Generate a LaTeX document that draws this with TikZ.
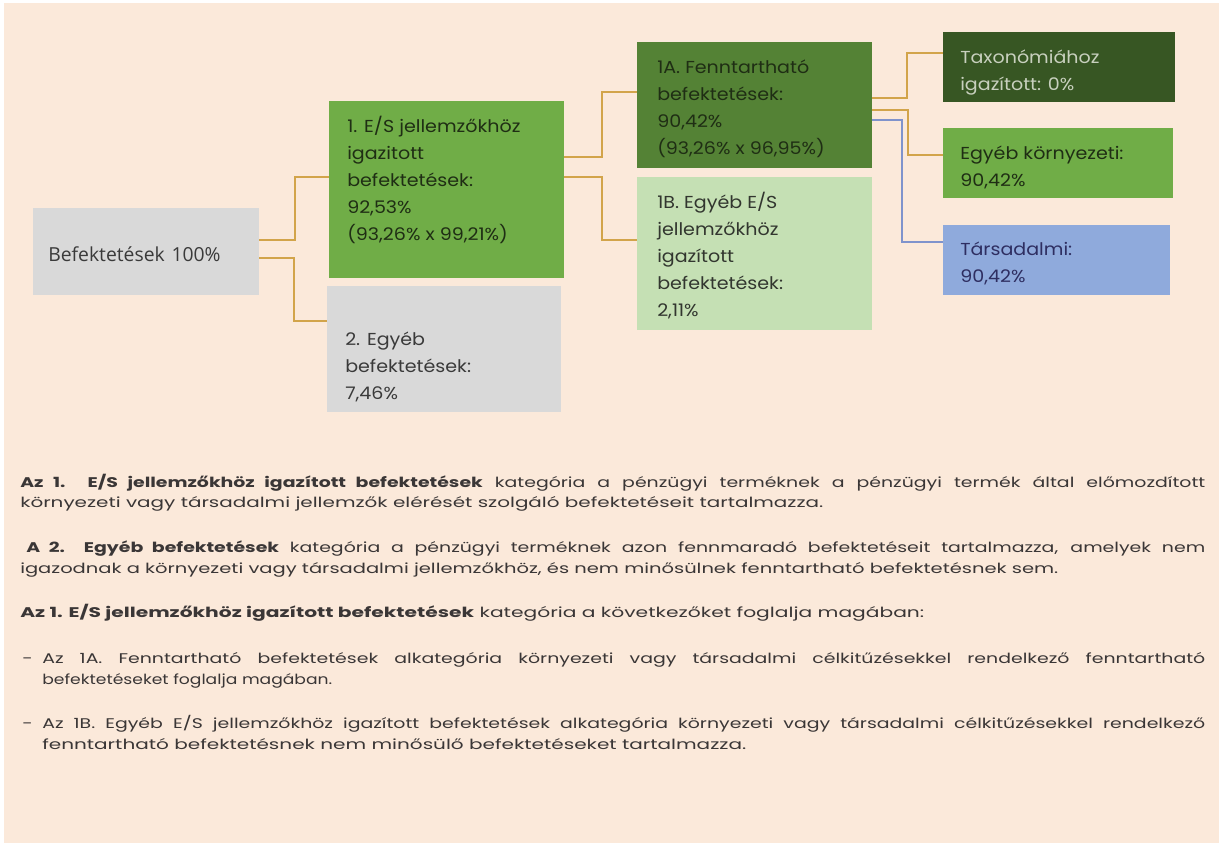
\documentclass[tikz,border=0pt]{standalone}
\usepackage{fontspec}
\usepackage{graphicx}
\setmainfont{Poppins}
\newfontfamily\boxfont[FakeStretch=1.1]{Poppins}
\newfontfamily\lowfont[FakeStretch=1.35]{Poppins}
\newfontfamily\rootfont{Open Sans}
\usetikzlibrary{calc}
\definecolor{peach}{HTML}{FBE9DA}
\definecolor{greyb}{HTML}{D9D9D9}
\definecolor{greenb}{HTML}{70AD47}
\definecolor{greend}{HTML}{548235}
\definecolor{greendd}{HTML}{375623}
\definecolor{greenl}{HTML}{C5E0B4}
\definecolor{blueb}{HTML}{8FAADC}
\definecolor{goldl}{HTML}{D2A44A}
\definecolor{bluel}{HTML}{7F93CC}
\definecolor{darkt}{HTML}{1F2E14}
\definecolor{greyt}{HTML}{3A3A3A}
\definecolor{lightt}{HTML}{C8D0BE}
\definecolor{lowt}{HTML}{3A3636}
\newcommand\mylines[1]{\begin{tabular}[t]{@{}l@{}}#1\end{tabular}}
\newcommand\jline[2]{\makebox[\dimexpr #1pt*3/4\relax][s]{#2}}
\newcommand\rline[2]{\resizebox{\dimexpr #1pt*3/4\relax}{\height}{#2}}
\begin{document}
\begin{tikzpicture}[x=0.75pt,y=-0.75pt,
  boxr/.style={rectangle, inner sep=0pt, outer sep=0pt, anchor=north west},
  btxt/.style={anchor=base west, inner sep=0pt, text=darkt,
    font=\boxfont\fontsize{13}{20.25}\selectfont},
  ltxt/.style={anchor=base west, inner sep=0pt, text=lowt,
    font=\lowfont\fontsize{10.5}{13}\selectfont},
  conn/.style={draw=goldl, line width=1.5pt},
  connb/.style={draw=bluel, line width=1.5pt}]
\useasboundingbox (0,0) rectangle (1219,843);
\fill[white] (0,0) rectangle (1219,843);
\fill[peach] (4,3) rectangle (1219,843);
% boxes
\node[boxr, fill=greyb, minimum width=226*0.75pt, minimum height=87*0.75pt] (root) at (33,208) {};
\node[boxr, fill=greenb, minimum width=235*0.75pt, minimum height=177*0.75pt] (box1) at (329,101) {};
\node[boxr, fill=greyb, minimum width=234*0.75pt, minimum height=126*0.75pt] (box2) at (327,286) {};
\node[boxr, fill=greend, minimum width=235*0.75pt, minimum height=126*0.75pt] (boxA) at (637,42) {};
\node[boxr, fill=greenl, minimum width=235*0.75pt, minimum height=153*0.75pt] (boxB) at (637,177) {};
\node[boxr, fill=greendd, minimum width=232*0.75pt, minimum height=70*0.75pt] (tax) at (943,32) {};
\node[boxr, fill=greenb, minimum width=230*0.75pt, minimum height=70*0.75pt] (env) at (943,128) {};
\node[boxr, fill=blueb, minimum width=227*0.75pt, minimum height=70*0.75pt] (soc) at (943,225) {};
% box texts
\node[anchor=base west, inner sep=0pt, text=greyt, font=\rootfont\fontsize{14.5}{18}\selectfont] (roott) at (48,261) {Befektetések\hspace{0.35em}100\%};
\node[btxt] (box1t) at (347,132) {\mylines{1. E/S jellemzőkhöz\\igazitott\\befektetések:\\92,53\%\\(93,26\% x 99,21\%)}};
\node[btxt, text=greyt] (box2t) at (345,345) {\mylines{2. Egyéb\\befektetések:\\7,46\%}};
\node[btxt] (boxAt) at (657,73) {\mylines{1A. Fenntartható\\befektetések:\\90,42\%\\(93,26\% x 96,95\%)}};
\node[btxt, text=greyt!70!darkt] (boxBt) at (657,208) {\mylines{1B. Egyéb E/S\\jellemzőkhöz\\igazított\\befektetések:\\2,11\%}};
\node[btxt, text=lightt] (taxt) at (960,63) {\mylines{Taxonómiához\\igazított: 0\%}};
\node[btxt] (envt) at (960,159) {\mylines{Egyéb környezeti:\\90,42\%}};
\node[btxt, text=greyt!80!blue] (soct) at (960,255) {\mylines{Társadalmi:\\90,42\%}};
% connectors
\draw[conn] ($(root.north east)+(0,32)$) -- ++(36,0) |- ($(box1.north west)+(0,76)$);
\draw[conn] ($(root.north east)+(0,50)$) -- ++(35,0) |- ($(box2.north west)+(0,35)$);
\draw[conn] ($(box1.north east)+(0,56)$) -- ++(38,0) |- ($(boxA.north west)+(0,50)$);
\draw[conn] ($(box1.north east)+(0,76)$) -- ++(38,0) |- ($(boxB.north west)+(0,63)$);
\draw[conn] ($(boxA.north east)+(0,56)$) -- ++(35,0) |- ($(tax.north west)+(0,21)$);
\draw[conn] ($(boxA.north east)+(0,68)$) -- ++(36,0) |- ($(env.north west)+(0,27)$);
\draw[connb] ($(boxA.north east)+(0,78)$) -- ++(30,0) |- ($(soc.north west)+(0,17)$);
% lower text
\node[ltxt] (p1a) at (20,487) {\jline{1185}{\textbf{Az 1. E/S jellemzőkhöz igazított befektetések} kategória a pénzügyi terméknek a pénzügyi termék által előmozdított}};
\node[ltxt] (p1b) at (20,507) {\rline{803}{környezeti vagy társadalmi jellemzők elérését szolgáló befektetéseit tartalmazza.}};
\node[ltxt] (p2a) at (26,552) {\jline{1179}{\textbf{A 2. Egyéb befektetések} kategória a pénzügyi terméknek azon fennmaradó befektetéseit tartalmazza, amelyek nem}};
\node[ltxt] (p2b) at (20,573) {\rline{1038}{igazodnak a környezeti vagy társadalmi jellemzőkhöz, és nem minősülnek fenntartható befektetésnek sem.}};
\node[ltxt] (p3) at (20,617) {\rline{904}{\textbf{Az 1. E/S jellemzőkhöz igazított befektetések} kategória a következőket foglalja magában:}};
\node[ltxt] (d1) at (22,663) {-};
\node[ltxt] (b1a) at (42,663) {\jline{1163}{Az 1A. Fenntartható befektetések alkategória környezeti vagy társadalmi célkitűzésekkel rendelkező fenntartható}};
\node[ltxt] (b1b) at (42,684) {\rline{290}{befektetéseket foglalja magában.}};
\node[ltxt] (d2) at (22,728) {-};
\node[ltxt] (b2a) at (42,728) {\jline{1163}{Az 1B. Egyéb E/S jellemzőkhöz igazított befektetések alkategória környezeti vagy társadalmi célkitűzésekkel rendelkező}};
\node[ltxt] (b2b) at (42,749) {\rline{704}{fenntartható befektetésnek nem minősülő befektetéseket tartalmazza.}};
\end{tikzpicture}
\end{document}
